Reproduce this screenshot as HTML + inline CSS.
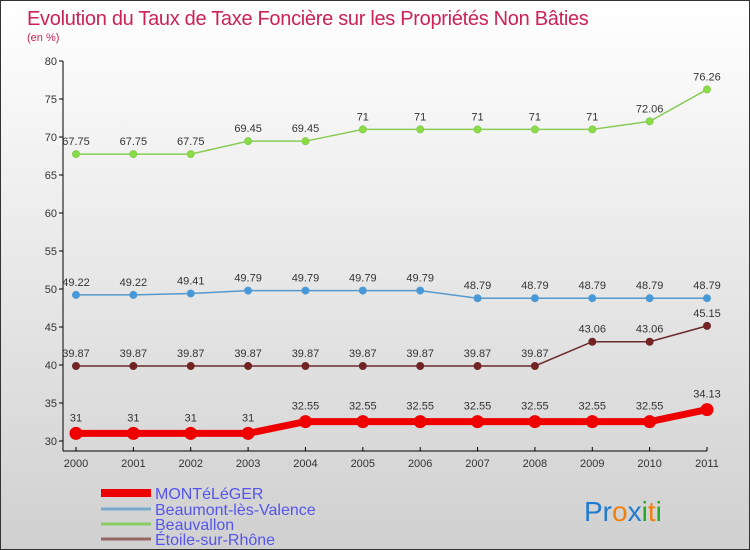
<!DOCTYPE html>
<html><head><meta charset="utf-8"><style>
body{margin:0}
#c{width:750px;height:550px;position:relative;background:linear-gradient(#ffffff,#d0d0d0);border:1px solid #333;box-sizing:border-box;font-family:"Liberation Sans",sans-serif;overflow:hidden}
svg text{font-family:"Liberation Sans",sans-serif}
</style></head><body>
<div id="c">
<svg id="s" width="750" height="550">
<text x="26" y="24" font-size="20" fill="#cc2255" letter-spacing="-0.3">Evolution du Taux de Taxe Foncière sur les Propriétés Non Bâties</text>
<text x="26" y="40" font-size="11" fill="#cc2255">(en %)</text>
<text x="583" y="520" font-size="28" font-family="Liberation Sans"><tspan fill="#1e7bd0">Pr</tspan><tspan fill="#f08010">o</tspan><tspan fill="#1e7bd0">x</tspan><tspan fill="#22aa22">i</tspan><tspan fill="#f08010">t</tspan><tspan fill="#22aa22">i</tspan></text>
</svg>
</div>
<script>
const years=["2000","2001","2002","2003","2004","2005","2006","2007","2008","2009","2010","2011"];
const yTicks=[30,35,40,45,50,55,60,65,70,75,80];
const monteleger=[31,31,31,31,32.55,32.55,32.55,32.55,32.55,32.55,32.55,34.13];
const beaumont=[49.22,49.22,49.41,49.79,49.79,49.79,49.79,48.79,48.79,48.79,48.79,48.79];
const beauvallon=[67.75,67.75,67.75,69.45,69.45,71,71,71,71,71,72.06,76.26];
const etoile=[39.87,39.87,39.87,39.87,39.87,39.87,39.87,39.87,39.87,43.06,43.06,45.15];
const seriesNames=["MONTéLéGER","Beaumont-lès-Valence","Beauvallon","Étoile-sur-Rhône"];

const NS="http://www.w3.org/2000/svg";
const svg=document.getElementById('s');
const X=i=>75+i*(706-75)/11;
const Y=v=>440-(v-30)*7.6;
function mk(t,a,p){const e=document.createElementNS(NS,t);for(const k in a)e.setAttribute(k,a[k]);(p||svg).appendChild(e);return e;}
const ya=mk('line',{x1:62,y1:Y(80),x2:62,y2:450,stroke:'#000'});


const xa=mk('line',{x1:62,y1:450,x2:706,y2:450,stroke:'#000'});


yTicks.forEach(v=>{
 mk('line',{x1:58,x2:62,y1:Y(v),y2:Y(v),stroke:'#000'});
 const t=mk('text',{x:56,y:Y(v)+4,'font-size':11,'text-anchor':'end',fill:'#333'});t.textContent=v;
 
 
});
years.forEach((y,i)=>{
 mk('line',{x1:X(i),x2:X(i),y1:446,y2:450,stroke:'#000'});
 const t=mk('text',{x:X(i),y:466,'font-size':11,'text-anchor':'middle',fill:'#333'});t.textContent=y;
 
 
});
function series(data,color,dot,w,r,name,labelDy){
 const g=mk('g',{});
 
 
 mk('polyline',{points:data.map((v,i)=>X(i)+','+Y(v)).join(' '),fill:'none',stroke:color,'stroke-width':w},g);
 data.forEach((v,i)=>{
  const c=mk('circle',{cx:X(i),cy:Y(v),r:r,fill:dot,stroke:color,'stroke-width':1},g);
  
  
  const t=mk('text',{x:X(i),y:Y(v)+labelDy,'font-size':11,'text-anchor':'middle',fill:'#333'},g);
  t.textContent=String(v);
  
  
 });
}
series(beauvallon,'#88cc55','#88dd44',1.5,3.5,'series-beauvallon',-9);
series(beaumont,'#5599cc','#4499dd',1.5,3.5,'series-beaumont',-9);
series(etoile,'#6b2a2a','#772222',1.5,3.5,'series-etoile',-9);
series(monteleger,'#ee0000','#ee0000',7,6,'series-monteleger',-12);
const lc=['#ee0000','#77aacc','#88cc66','#996666'],lw=[8,3,3,3],ly=[492,508,523,538];
seriesNames.forEach((n,i)=>{
 const l=mk('line',{x1:100,x2:150,y1:ly[i],y2:ly[i],stroke:lc[i],'stroke-width':lw[i]});
 
 
 const t=mk('text',{x:154,y:ly[i]+6,'font-size':16,fill:'#5555ee'});t.textContent=n;
 
 
});
</script>
</body></html>
